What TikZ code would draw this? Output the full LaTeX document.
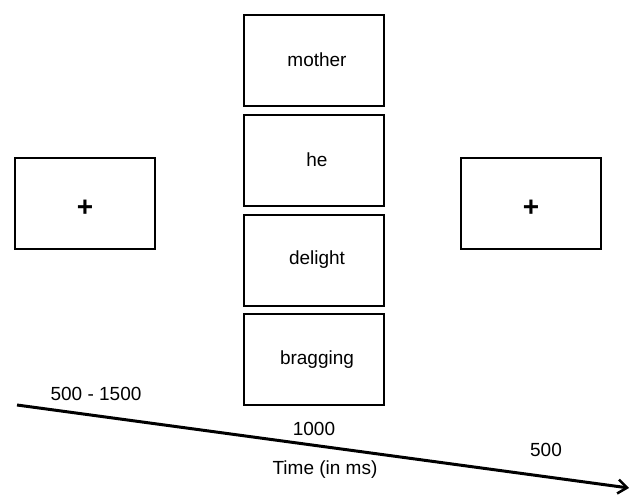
\documentclass[tikz,border=0pt]{standalone}
\usepackage{fontspec}
\setmainfont{Liberation Sans}
\usetikzlibrary{arrows.meta, positioning, calc}

\tikzset{
    screen/.style={draw=black, line width=2pt, minimum width=140pt, minimum height=91pt, inner sep=0pt},
    word/.style={font=\fontsize{19}{22}\selectfont},
    fix/.style={font=\fontsize{28}{30}\selectfont\bfseries},
    lbl/.style={font=\fontsize{19}{22}\selectfont}
}

\begin{document}
\begin{tikzpicture}[x=1pt, y=-1pt]
    \useasboundingbox (0, 0) rectangle (633, 496);

    % Fixation kiri
    \node[screen] (fixA) at (85, 203) {};
    \node[fix] (plusA) at ([yshift=-5pt]fixA.center) {+};

    % Kata-kata: 4 kotak
    \foreach \w/\y [count=\i] in {mother/60, he/160, delight/260, bragging/359.5} {
        \node[screen] (w\i) at (314, \y) {};
        \node[word] (t\i) at ([xshift=3pt]w\i.center) {\w};
    }

    % Fixation kanan
    \node[screen] (fixB) at (531, 203.5) {};
    \node[fix] (plusB) at ([yshift=-5pt]fixB.center) {+};

    % Sumbu waktu
    \coordinate (tStart) at (17, 405);
    \coordinate (tEnd) at (629, 488);
    \draw[line width=3pt, -{Straight Barb[length=9pt, width=14pt, line width=2.5pt]}] (tStart) -- (tEnd);

    % Durasi
    \node[lbl] (d1) at (96, 394) {500 - 1500};
    \node[lbl] (d2) at (314, 429) {1000};
    \node[lbl] (d3) at (546, 450) {500};
    \node[lbl] (tLabel) at (325, 470) {Time (in ms)};
\end{tikzpicture}
\end{document}
